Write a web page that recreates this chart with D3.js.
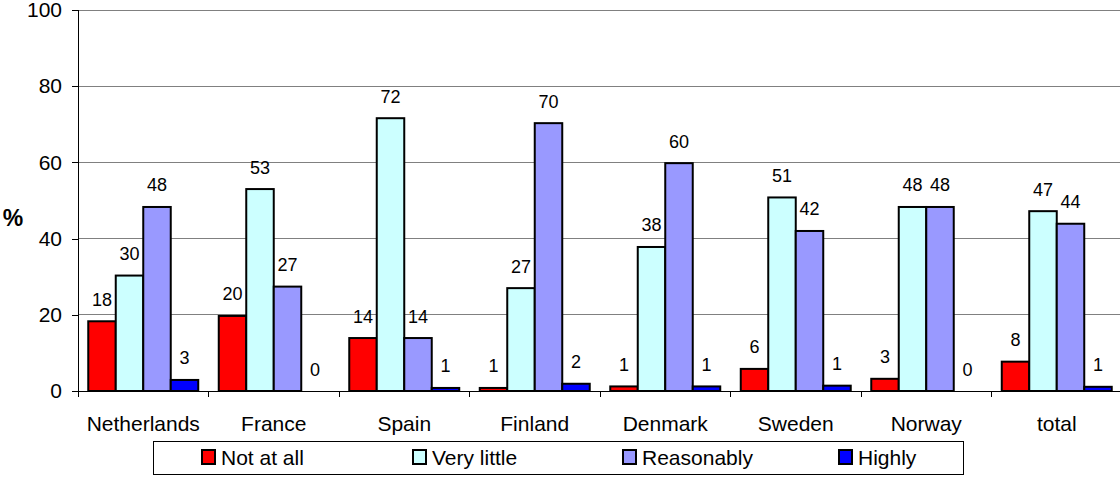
<!DOCTYPE html>
<html><head><meta charset="utf-8">
<script src="https://cdn.jsdelivr.net/npm/d3@7"></script>
<style>
body{margin:0;background:#fff;}
text{font-family:"Liberation Sans",Arial,sans-serif;}
</style></head>
<body>
<svg id="c" width="1120" height="478"></svg>
<script>
const categories = ["Netherlands","France","Spain","Finland","Denmark","Sweden","Norway","total"];
const seriesNames = ["Not at all","Very little","Reasonably","Highly"];
const notAtAll   = [18.3, 19.7, 13.9, 0.8, 1.2, 5.8, 3.2, 7.7];
const veryLittle = [30.3, 53.0, 71.6, 27.0, 37.8, 50.8, 48.3, 47.2];
const reasonably = [48.3, 27.4, 13.9, 70.3, 59.8, 42.0, 48.3, 43.9];
const highly     = [2.9, 0, 0.8, 1.9, 1.2, 1.4, 0, 1.1];
const colors = ["#ff0000","#ccffff","#9999ff","#0000ff"];
const yTicks = [0,20,40,60,80,100];

const values = [notAtAll, veryLittle, reasonably, highly];
const svg = d3.select("#c");
const L = 78, R = 1122, T = 10, B = 391;

const x0 = d3.scaleBand().domain(categories).range([L, R]).padding(0);
const x1 = d3.scaleBand().domain(seriesNames).range([0, x0.bandwidth()]).paddingInner(0).paddingOuter(0.373);
const y = d3.scaleLinear().domain([0,100]).range([B, T]);

// gridlines
svg.append("g").selectAll("line").data(yTicks.filter(t=>t>0)).join("line")
  .attr("x1", L).attr("x2", 1120).attr("y1", d=>y(d)).attr("y2", d=>y(d))
  .attr("stroke", "#808080").attr("stroke-width", 1).attr("shape-rendering","crispEdges");

// y axis
const yAxis = svg.append("g").attr("transform", `translate(${L},0)`)
  .call(d3.axisLeft(y).tickValues(yTicks).tickSize(6).tickPadding(10));
yAxis.select(".domain").attr("stroke","#000").attr("shape-rendering","crispEdges");
yAxis.selectAll(".tick line").attr("stroke","#000").attr("shape-rendering","crispEdges");
yAxis.selectAll("text").attr("font-size","21px").attr("fill","#000");

// bars
const rows = [];
categories.forEach((c,i)=>seriesNames.forEach((s,j)=>rows.push({c, s, j, v: values[j][i]})));
svg.append("g").selectAll("rect").data(rows.filter(d=>d.v>0)).join("rect")
  .attr("x", d=>x0(d.c)+x1(d.s))
  .attr("y", d=>y(d.v))
  .attr("width", x1.bandwidth())
  .attr("height", d=>B - y(d.v))
  .attr("fill", d=>colors[d.j])
  .attr("stroke","#000").attr("stroke-width",2);

// value labels
svg.append("g").selectAll("text").data(rows).join("text")
  .attr("x", d=>x0(d.c)+x1(d.s)+x1.bandwidth()/2)
  .attr("y", d=>y(d.v)-15.5)
  .attr("text-anchor","middle").attr("font-size","18px").attr("fill","#000")
  .text(d=>Math.round(d.v));

// x axis
const xb = svg.append("g");
xb.append("line").attr("x1",L).attr("x2",1120).attr("y1",B).attr("y2",B)
  .attr("stroke","#000").attr("shape-rendering","crispEdges");
xb.selectAll("line.t").data(categories).join("line").attr("class","t")
  .attr("x1", d=>x0(d)).attr("x2", d=>x0(d)).attr("y1",B).attr("y2",B+6)
  .attr("stroke","#000").attr("shape-rendering","crispEdges");
xb.selectAll("text").data(categories).join("text")
  .attr("x", d=>x0(d)+x0.bandwidth()/2).attr("y", 431)
  .attr("text-anchor","middle").attr("font-size","21px").attr("fill","#000")
  .text(d=>d);

// y label
svg.append("text").attr("x",13).attr("y",226).attr("text-anchor","middle")
  .attr("font-size","23px").attr("font-weight","bold").text("%");

// legend
const lg = svg.append("g");
lg.append("rect").attr("x",153.5).attr("y",441.5).attr("width",810).attr("height",33)
  .attr("fill","#fff").attr("stroke","#000");
const lx = [202, 413, 623, 839];
seriesNames.forEach((s,j)=>{
  lg.append("rect").attr("x",lx[j]).attr("y",450).attr("width",13).attr("height",14)
    .attr("fill",colors[j]).attr("stroke","#000").attr("stroke-width",2);
  lg.append("text").attr("x",lx[j]+19).attr("y",465).attr("font-size","21px").text(s);
});
</script>
</body></html>
